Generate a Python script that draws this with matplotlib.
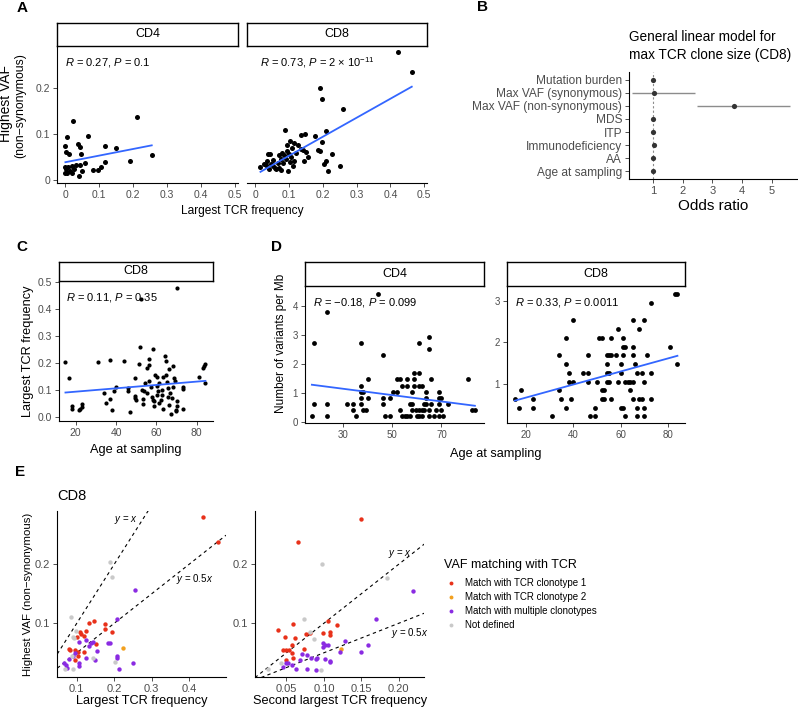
import numpy as np
import matplotlib
matplotlib.use("Agg")
import matplotlib.pyplot as plt
from matplotlib.lines import Line2D

plt.rcParams['font.family'] = ['Liberation Sans', 'DejaVu Sans']
plt.rcParams['mathtext.fontset'] = 'custom'
plt.rcParams['mathtext.rm'] = 'Liberation Sans'
plt.rcParams['mathtext.it'] = 'Liberation Sans:italic'
plt.rcParams['mathtext.bf'] = 'Liberation Sans:bold'

# ---------------- data ----------------
# Panel A: CD4
a_cd4_tcr = [0.023, 0.211, 0.005, 0.067, 0.0, 0.036, 0.042, 0.002, 0.012, 0.047,
             0.118, 0.148, 0.255, 0.19, 0.116, 0.057, 0.042, 0.030, 0.02, 0.008,
             0.0, 0.002, 0.005, 0.013, 0.025, 0.049, 0.039, 0.081, 0.096, 0.105,
             0.0, 0.02]
a_cd4_vaf = [0.129, 0.138, 0.093, 0.095, 0.074, 0.079, 0.071, 0.06, 0.055, 0.057,
             0.073, 0.069, 0.054, 0.04, 0.038, 0.036, 0.032, 0.032, 0.029, 0.028,
             0.028, 0.022, 0.015, 0.019, 0.022, 0.018, 0.007, 0.02, 0.02, 0.028,
             0.014, 0.015]
# Panel A: CD8
a_cd8_tcr = [0.423, 0.463, 0.19, 0.196, 0.26, 0.089, 0.208, 0.136, 0.148, 0.177,
             0.103, 0.114, 0.093, 0.126, 0.197, 0.108, 0.134, 0.142, 0.184, 0.192,
             0.15, 0.08, 0.037, 0.043, 0.069, 0.1, 0.157, 0.228, 0.105, 0.09,
             0.076, 0.053, 0.033, 0.145, 0.209, 0.101, 0.114, 0.024, 0.045, 0.066,
             0.083, 0.204, 0.251, 0.015, 0.052, 0.059, 0.069, 0.076, 0.096, 0.111,
             0.062, 0.216, 0.04, 0.03, 0.085, 0.095, 0.119]
a_cd8_vaf = [0.279, 0.237, 0.201, 0.177, 0.155, 0.108, 0.107, 0.098, 0.099, 0.095,
             0.085, 0.08, 0.075, 0.075, 0.082, 0.069, 0.068, 0.064, 0.064, 0.063,
             0.06, 0.058, 0.056, 0.055, 0.053, 0.056, 0.05, 0.055, 0.05, 0.045,
             0.045, 0.042, 0.041, 0.04, 0.041, 0.038, 0.04, 0.035, 0.034, 0.037,
             0.037, 0.033, 0.03, 0.027, 0.029, 0.026, 0.025, 0.02, 0.018, 0.029,
             0.022, 0.019, 0.023, 0.031, 0.053, 0.062, 0.058]
a_cd4_fit = [0.038, 0.145]      # intercept, slope
a_cd8_fit = [0.0106, 0.417]
a_cd4_label = r"$\mathit{R}$ = 0.27, $\mathit{P}$ = 0.1"
a_cd8_label = r"$\mathit{R}$ = 0.73, $\mathit{P}$ = 2 × 10$^{-11}$"

# Panel B: GLM odds ratios
b_vars = ["Mutation burden", "Max VAF (synonymous)", "Max VAF (non-synonymous)",
          "MDS", "ITP", "Immunodeficiency", "AA", "Age at sampling"]
b_or = [1.0, 1.03, 3.74, 1.0, 0.98, 1.02, 0.99, 1.0]
b_lo = [0.97, 0.28, 2.47, 0.97, 0.93, 0.98, 0.96, 0.98]
b_hi = [1.03, 2.41, 5.62, 1.03, 1.03, 1.06, 1.02, 1.02]

# Panel C
c_age = [14.9, 16.9, 17.9, 17.9, 22.1, 23, 23.1, 21.6, 30.9, 37, 44.1, 34, 35, 37, 38,
         39, 40, 46.1, 46.1, 47.1, 49.3, 49.4, 49.5, 50, 51.2, 52.2, 52, 52.7, 53.2,
         53.5, 53.9, 54.4, 55.2, 55.2, 56.2, 56.2, 56.5, 57.2, 58.2, 58.2, 59, 59.5,
         60.2, 60.5, 60.2, 60.8, 61.5, 61.5, 62.1, 62.6, 62.6, 63.1, 63.5, 64.1, 64.5,
         64.6, 65.1, 65.5, 65.6, 66, 66.4, 66.8, 67.3, 67.6, 68.1, 68.4, 68.9, 69.3,
         70.1, 69.8, 70.1, 70.4, 69.6, 73.4, 73.4, 73.4, 81.3, 83.3, 84.3, 84.3, 83.8,
         57.7, 58.8]
c_tcr = [0.206, 0.144, 0.041, 0.032, 0.031, 0.048, 0.039, 0.028, 0.205, 0.211, 0.21,
         0.091, 0.055, 0.068, 0.028, 0.096, 0.114, 0.108, 0.096, 0.02, 0.144, 0.08,
         0.071, 0.065, 0.198, 0.436, 0.262, 0.102, 0.049, 0.069, 0.096, 0.127, 0.09,
         0.182, 0.192, 0.216, 0.133, 0.114, 0.252, 0.065, 0.059, 0.155, 0.151, 0.084,
         0.117, 0.096, 0.127, 0.053, 0.065, 0.102, 0.084, 0.151, 0.033, 0.227, 0.209,
         0.157, 0.13, 0.108, 0.077, 0.047, 0.178, 0.092, 0.012, 0.071, 0.114, 0.19,
         0.145, 0.136, 0.477, 0.028, 0.041, 0.059, 0.022, 0.114, 0.106, 0.032, 0.149,
         0.184, 0.198, 0.129, 0.19, 0.077, 0.041]
c_fit = [0.0828, 0.00062]
c_label = r"$\mathit{R}$ = 0.11, $\mathit{P}$ = 0.35"

# Panel D: CD4
d_cd4_age = [17.3, 18.2, 18.3, 23.4, 23.4, 23.4, 31.4, 34, 34, 35.2, 37.2, 37.2, 37.2,
             37.2, 37.2, 38.1, 38.1, 39.2, 40.2, 40.2, 44.1, 46.1, 46.1, 46.1, 47.1,
             49.1, 49, 50.1, 52.1, 52.1, 53, 53, 54.1, 54.1, 55.1, 56, 56, 56, 57.9,
             57.9, 59, 59, 59, 59.7, 60, 60.9, 60.9, 60.9, 60.9, 60.9, 62, 62, 62.9,
             62.9, 63.9, 63.9, 63.9, 64.8, 64.8, 64.8, 64.8, 65.9, 65.9, 66.9, 67.8,
             68.8, 68.8, 68.8, 68.8, 69.9, 69.9, 70.8, 72.8, 80.8, 82.6, 83.6, 57.1,
             61.9, 58.2, 57.1]
d_cd4_var = [0.21, 2.73, 0.63, 3.78, 0.63, 0.21, 0.63, 0.63, 0.42, 0.21, 2.73, 1.26,
             1.05, 0.84, 0.63, 1.05, 0.42, 0.42, 1.47, 0.84, 4.41, 2.31, 0.84, 0.63,
             0.21, 0.21, 0.84, 1.05, 1.05, 1.47, 1.47, 0.42, 1.26, 0.21, 0.21, 1.47,
             1.26, 0.21, 0.63, 0.42, 1.68, 1.47, 1.26, 0.42, 0.21, 1.68, 1.26, 2.73,
             0.42, 0.21, 1.26, 0.42, 0.63, 0.42, 1.05, 0.84, 0.63, 2.94, 2.52, 0.42,
             0.21, 1.47, 0.63, 0.21, 0.42, 1.05, 0.84, 0.63, 0.21, 0.84, 0.42, 0.21,
             0.63, 1.47, 0.42, 0.42, 0.21, 0.21, 1.05, 0.63]
# Panel D: CD8
d_cd8_age = [15.4, 17.2, 18.2, 23.1, 23.1, 31.1, 34.1, 34.1, 35.1, 37.2, 37.2, 37.2,
             38.2, 39, 40, 38.2, 40, 44.2, 46.1, 46.1, 46.1, 47, 49.2, 49.2, 50.1,
             51.1, 52.1, 52.1, 52.1, 53.1, 53.1, 54.1, 54.1, 54.1, 54.1, 55.1, 55.1,
             55.1, 56.1, 56.1, 56.1, 58, 59, 59, 60, 60, 60, 61.1, 61.1, 61.1, 61.1,
             62.1, 62.1, 62.1, 63.1, 64.1, 64.1, 65.1, 65.1, 65.1, 65.1, 65.1, 66.1,
             67, 67, 67, 68, 68, 69, 69, 70, 70, 70, 70, 71, 73, 73, 73, 81, 82.8, 84, 84]
d_cd8_var = [0.63, 0.42, 0.84, 0.63, 0.42, 0.21, 1.68, 0.84, 0.63, 1.47, 2.1, 0.42,
             1.26, 0.63, 2.52, 1.05, 1.05, 1.26, 1.26, 1.68, 1.05, 0.21, 0.42, 0.21,
             1.05, 2.1, 2.1, 0.84, 0.63, 0.63, 0.84, 1.68, 1.47, 1.26, 1.05, 1.68,
             1.26, 1.05, 2.1, 1.68, 0.63, 1.68, 2.31, 1.05, 1.47, 1.26, 0.42, 2.1,
             1.89, 1.68, 0.42, 1.89, 0.21, 1.05, 1.05, 1.05, 0.84, 2.52, 1.89, 1.68,
             1.05, 0.63, 1.47, 1.26, 0.42, 0.21, 2.31, 0.63, 1.26, 0.63, 2.52, 1.05,
             0.42, 0.21, 1.68, 2.94, 1.26, 0.63, 1.89, 3.15, 3.15, 1.47]
d_cd4_fit = [1.478, -0.01086]
d_cd8_fit = [0.348, 0.01574]
d_cd4_label = r"$\mathit{R}$ = −0.18, $\mathit{P}$ = 0.099"
d_cd8_label = r"$\mathit{R}$ = 0.33, $\mathit{P}$ = 0.0011"

# Panel E (CD8); groups: r = clonotype 1, o = clonotype 2, p = multiple, g = not defined
e1_tcr = [0.436, 0.477, 0.188, 0.194, 0.256, 0.084, 0.206, 0.132, 0.146, 0.176, 0.176,
          0.195, 0.098, 0.125, 0.109, 0.111, 0.119, 0.1, 0.089, 0.092, 0.105, 0.125,
          0.15, 0.137, 0.143, 0.183, 0.189, 0.132, 0.153, 0.078, 0.082, 0.095, 0.118,
          0.095, 0.224, 0.089, 0.087, 0.102, 0.078, 0.066, 0.072, 0.107, 0.125, 0.142,
          0.148, 0.206, 0.206, 0.202, 0.213, 0.249, 0.091, 0.105, 0.095, 0.069, 0.073,
          0.103]
e1_vaf = [0.279, 0.238, 0.203, 0.179, 0.157, 0.110, 0.108, 0.101, 0.104, 0.098, 0.090,
          0.086, 0.087, 0.087, 0.085, 0.081, 0.079, 0.076, 0.077, 0.075, 0.068, 0.072,
          0.065, 0.067, 0.068, 0.066, 0.066, 0.061, 0.053, 0.057, 0.055, 0.055, 0.051,
          0.049, 0.058, 0.045, 0.044, 0.044, 0.039, 0.032, 0.029, 0.033, 0.041, 0.042,
          0.037, 0.044, 0.041, 0.034, 0.023, 0.032, 0.022, 0.027, 0.038, 0.022, 0.025,
          0.051]
e1_grp = ['r', 'r', 'g', 'g', 'p', 'g', 'p', 'r', 'r', 'r', 'r', 'r', 'g', 'r', 'r', 'r',
          'r', 'r', 'g', 'g', 'p', 'p', 'r', 'p', 'p', 'p', 'p', 'p', 'p', 'r', 'r', 'r',
          'r', 'p', 'o', 'p', 'g', 'r', 'p', 'p', 'p', 'p', 'p', 'g', 'p', 'p', 'p', 'g',
          'p', 'p', 'g', 'p', 'r', 'g', 'p', 'r']
e2_tcr = [0.150, 0.065, 0.097, 0.184, 0.219, 0.169, 0.073, 0.059, 0.039, 0.106, 0.117,
          0.082, 0.076, 0.081, 0.099, 0.108, 0.108, 0.048, 0.061, 0.087, 0.128, 0.099,
          0.101, 0.106, 0.099, 0.159, 0.057, 0.046, 0.049, 0.054, 0.057, 0.074, 0.123,
          0.122, 0.150, 0.071, 0.077, 0.083, 0.090, 0.091, 0.102, 0.108, 0.108, 0.068,
          0.059, 0.050, 0.050, 0.052, 0.057, 0.046, 0.063, 0.078, 0.089, 0.096, 0.043,
          0.025]
e2_vaf = [0.277, 0.237, 0.201, 0.177, 0.155, 0.107, 0.108, 0.099, 0.089, 0.103, 0.097,
          0.086, 0.082, 0.084, 0.083, 0.085, 0.080, 0.077, 0.075, 0.074, 0.070, 0.067,
          0.064, 0.064, 0.060, 0.064, 0.063, 0.054, 0.054, 0.054, 0.050, 0.056, 0.056,
          0.051, 0.052, 0.048, 0.046, 0.042, 0.040, 0.042, 0.039, 0.034, 0.036, 0.037,
          0.042, 0.038, 0.032, 0.033, 0.029, 0.026, 0.022, 0.023, 0.021, 0.021, 0.033,
          0.022]
e2_grp = ['r', 'r', 'g', 'g', 'p', 'p', 'g', 'r', 'r', 'r', 'r', 'g', 'r', 'r', 'r', 'r',
          'r', 'r', 'r', 'g', 'p', 'p', 'p', 'p', 'p', 'p', 'r', 'r', 'r', 'r', 'r', 'r',
          'o', 'p', 'p', 'p', 'p', 'p', 'p', 'p', 'p', 'p', 'p', 'p', 'r', 'r', 'p', 'p',
          'p', 'p', 'p', 'p', 'p', 'g', 'g', 'g']
e_groups = ['r', 'o', 'p', 'g']
e_group_labels = ["Match with TCR clonotype 1", "Match with TCR clonotype 2",
                  "Match with multiple clonotypes", "Not defined"]
e_group_colors = ["#E8311A", "#F2A01E", "#8A2BE2", "#C9C9C9"]
e_ref_slopes = [1.0, 0.5]

# ---------------- helpers ----------------
W, H = 798, 709
fig = plt.figure(figsize=(W / 100, H / 100), dpi=100)

def add_ax(x0, y0, x1, y1):
    return fig.add_axes([x0 / W, 1 - y1 / H, (x1 - x0) / W, (y1 - y0) / H])

def ftext(x, y, s, **kw):
    return fig.text(x / W, 1 - y / H, s, **kw)

TICK_C = '#4D4D4D'
FIT_C = '#3366FF'

def style(ax, fs=7.5):
    for s in ['top', 'right']:
        ax.spines[s].set_visible(False)
    for s in ['left', 'bottom']:
        ax.spines[s].set_linewidth(0.8)
        ax.spines[s].set_color('black')
    ax.tick_params(direction='out', length=3, width=0.6, color='#333333',
                   labelcolor=TICK_C, labelsize=fs, pad=2)
    ax.set_facecolor('none')

def strip(x0, y0, x1, y1, label):
    s = add_ax(x0, y0, x1, y1)
    s.set_xticks([]); s.set_yticks([])
    for sp in s.spines.values():
        sp.set_linewidth(1.0); sp.set_color('black')
    s.text(0.5, 0.5, label, ha='center', va='center', fontsize=9, transform=s.transAxes)
    return s

def fit_line(ax, x, coef):
    xs = np.array([min(x), max(x)])
    ax.plot(xs, coef[0] + coef[1] * xs, color=FIT_C, lw=1.3, zorder=3)

def annot(ax, s):
    ax.text(0.045, 0.88, s, transform=ax.transAxes, fontsize=8, ha='left', va='center')

# ---------------- Panel A ----------------
a_xlim = (-0.024, 0.509); a_ylim = (-0.007, 0.293)
for (x0, x1, lab, xs, ys, coef, txt, first) in [
        (57.3, 237.7, 'CD4', a_cd4_tcr, a_cd4_vaf, a_cd4_fit, a_cd4_label, True),
        (247.3, 427.3, 'CD8', a_cd8_tcr, a_cd8_vaf, a_cd8_fit, a_cd8_label, False)]:
    ax = add_ax(x0, 46, x1, 182.7)
    style(ax)
    ax.scatter(xs, ys, s=13, color='black', linewidths=0, zorder=2)
    fit_line(ax, xs, coef)
    ax.set_xlim(a_xlim); ax.set_ylim(a_ylim)
    ax.set_xticks([0, 0.1, 0.2, 0.3, 0.4, 0.5])
    ax.set_xticklabels(['0', '0.1', '0.2', '0.3', '0.4', '0.5'])
    ax.set_yticks([0, 0.1, 0.2])
    if first:
        ax.set_yticklabels(['0', '0.1', '0.2'])
    else:
        ax.spines['left'].set_visible(False)
        ax.tick_params(axis='y', left=False, labelleft=False)
    ax.text(0.045 if first else 0.07, 0.88, txt, transform=ax.transAxes, fontsize=8,
            ha='left', va='center')
    strip(x0, 22.5, x1, 46, lab)
ftext(6, 103, "Highest VAF", rotation=90, ha='center', va='center', fontsize=10)
ftext(20, 106, "(non−synonymous)", rotation=90, ha='center', va='center', fontsize=8.8)
ftext(242, 211, "Largest TCR frequency", ha='center', va='center', fontsize=8.6)

# ---------------- Panel B ----------------
axb = add_ax(629, 72, 798, 179)
style(axb, fs=8)
ypos = np.arange(1, len(b_vars) + 1)
axb.axvline(1, color='#8C8C8C', lw=0.8, ls=(0, (2, 2)), zorder=1)
axb.hlines(ypos, b_lo, b_hi, color='#8C8C8C', lw=1.0, zorder=2)
axb.scatter(b_or, ypos, s=14, color='#333333', linewidths=0, zorder=3)
axb.set_xlim(0.18, 5.89); axb.set_ylim(8.6, 0.4)
axb.set_xticks([1, 2, 3, 4, 5])
axb.set_yticks(ypos); axb.set_yticklabels(b_vars, fontsize=8.6)
ftext(629, 37, "General linear model for", ha='left', va='center', fontsize=9.8)
ftext(629, 55, "max TCR clone size (CD8)", ha='left', va='center', fontsize=9.8)
ftext(713, 206, "Odds ratio", ha='center', va='center', fontsize=11)

# ---------------- Panel C ----------------
axc = add_ax(59, 280.7, 212.7, 420.7)
style(axc)
axc.scatter(c_age, c_tcr, s=9, color='black', linewidths=0, zorder=2)
fit_line(axc, c_age, c_fit)
axc.set_xlim(11.7, 87.9); axc.set_ylim(-0.012, 0.505)
axc.set_xticks([20, 40, 60, 80])
axc.set_yticks([0, 0.1, 0.2, 0.3, 0.4, 0.5])
axc.set_yticklabels(['0.0', '0.1', '0.2', '0.3', '0.4', '0.5'])
annot(axc, c_label)
strip(59, 261.7, 212.7, 280.7, 'CD8')
ftext(28, 351, "Largest TCR frequency", rotation=90, ha='center', va='center', fontsize=9.2)
ftext(136, 450, "Age at sampling", ha='center', va='center', fontsize=9.2)

# ---------------- Panel D ----------------
axd1 = add_ax(305, 286, 484, 423.3)
style(axd1, fs=7)
axd1.scatter(d_cd4_age, d_cd4_var, s=12, color='black', linewidths=0, zorder=2)
fit_line(axd1, d_cd4_age, d_cd4_fit)
axd1.set_xlim(14.5, 87.3); axd1.set_ylim(-0.03, 4.67)
axd1.set_xticks([30, 50, 70]); axd1.set_yticks([0, 1, 2, 3, 4])
annot(axd1, d_cd4_label)
strip(305, 262.3, 484, 286, 'CD4')

axd2 = add_ax(506.7, 286, 685, 423.3)
style(axd2, fs=7)
axd2.scatter(d_cd8_age, d_cd8_var, s=12, color='black', linewidths=0, zorder=2)
fit_line(axd2, d_cd8_age, d_cd8_fit)
axd2.set_xlim(12, 87.2); axd2.set_ylim(0.046, 3.35)
axd2.set_xticks([20, 40, 60, 80]); axd2.set_yticks([1, 2, 3])
annot(axd2, d_cd8_label)
strip(506.7, 262.3, 685, 286, 'CD8')
ftext(281, 343, "Number of variants per Mb", rotation=90, ha='center', va='center', fontsize=8.5)
ftext(496, 454, "Age at sampling", ha='center', va='center', fontsize=9.2)

# ---------------- Panel E ----------------
col_of = dict(zip(e_groups, e_group_colors))
e_ylim = (0.0085, 0.290)
panels = [(57.3, 226, e1_tcr, e1_vaf, e1_grp, (0.048, 0.498), [0.1, 0.2, 0.3, 0.4],
           ['0.1', '0.2', '0.3', '0.4'], [(0.232, 0.275), (0.415, 0.175)],
           "Largest TCR frequency"),
          (255, 424.3, e2_tcr, e2_vaf, e2_grp, (0.008, 0.234), [0.05, 0.10, 0.15, 0.20],
           ['0.05', '0.10', '0.15', '0.20'], [(0.202, 0.217), (0.214, 0.083)],
           "Second largest TCR frequency")]
ref_labels = [r"$\mathit{y}$ = $\mathit{x}$", r"$\mathit{y}$ = 0.5$\mathit{x}$"]
for (x0, x1, xs, ys, gs, xlim, xt, xtl, lblpos, xlab) in panels:
    ax = add_ax(x0, 511, x1, 677.3)
    style(ax, fs=8)
    ax.set_xlim(xlim); ax.set_ylim(e_ylim)
    xx = np.array(xlim)
    for k, (slope, lab, pos) in enumerate(zip(e_ref_slopes, ref_labels, lblpos)):
        ax.plot(xx, slope * xx, color='black', lw=0.8, ls=(0, (3, 3)), zorder=1)
        ax.text(pos[0], pos[1], lab, fontsize=7, ha='center', va='center')
    for g in e_groups:
        idx = [i for i, gg in enumerate(gs) if gg == g]
        ax.scatter([xs[i] for i in idx], [ys[i] for i in idx], s=10,
                   color=col_of[g], linewidths=0, zorder=2)
    ax.set_xticks(xt); ax.set_xticklabels(xtl)
    ax.set_yticks([0.1, 0.2]); ax.set_yticklabels(['0.1', '0.2'])
    ftext((x0 + x1) / 2, 701, xlab, ha='center', va='center', fontsize=9.2)
ftext(57, 496, "CD8", ha='left', va='center', fontsize=10.5)
ftext(28, 594, "Highest VAF (non−synonymous)", rotation=90, ha='center', va='center',
      fontsize=8.2)

# legend
ftext(444, 565, "VAF matching with TCR", ha='left', va='center', fontsize=9)
leg_y = [583.3, 596.7, 611, 624.7]
for yy, lab, c in zip(leg_y, e_group_labels, e_group_colors):
    fig.add_artist(Line2D([451 / W], [1 - yy / H], marker='o', markersize=2.8,
                          color=c, markeredgewidth=0, linestyle='none',
                          transform=fig.transFigure))
    ftext(465, yy, lab, ha='left', va='center', fontsize=7)

# panel letters
for (x, y, L) in [(22, 8, 'A'), (482, 7, 'B'), (22, 247, 'C'), (276, 247, 'D'), (20, 472, 'E')]:
    ftext(x, y, L, ha='center', va='center', fontsize=11, fontweight='bold')

fig.savefig("out.png", dpi=100)
